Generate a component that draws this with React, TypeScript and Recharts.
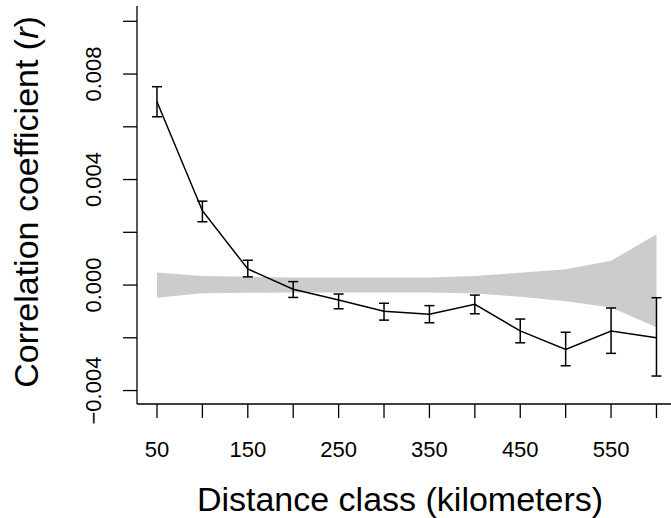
import { ComposedChart, Area, Line, ErrorBar, XAxis, YAxis, Label } from "recharts";

// Values (correlogram with permutation envelope)
const distances = [50, 100, 150, 200, 250, 300, 350, 400, 450, 500, 550, 600];
const rValues = [0.00695, 0.00282, 0.00061, -0.00016, -0.00057, -0.00099, -0.00111, -0.00073, -0.00174, -0.00244, -0.00174, -0.002];
const rUpper = [0.00752, 0.00318, 0.00094, 0.00013, -0.00034, -0.00069, -0.00078, -0.00038, -0.00129, -0.00179, -0.00087, -0.00048];
const rLower = [0.00638, 0.0024, 0.00031, -0.00047, -0.0009, -0.00133, -0.00143, -0.00109, -0.00219, -0.00306, -0.00259, -0.00345];
const envHigh = [0.00048, 0.00034, 0.00031, 0.00029, 0.00029, 0.00029, 0.00029, 0.00034, 0.00047, 0.0006, 0.00092, 0.00193];
const envLow = [-0.00048, -0.00031, -0.00029, -0.00028, -0.00028, -0.00028, -0.00028, -0.00032, -0.00044, -0.00061, -0.00085, -0.0016];

const xTicks = [50, 100, 150, 200, 250, 300, 350, 400, 450, 500, 550, 600];
const xLabelled = [50, 150, 250, 350, 450, 550];
const yTicks = [-0.004, -0.002, 0, 0.002, 0.004, 0.006, 0.008, 0.01];
const yLabelled = [-0.004, 0, 0.004, 0.008];

const FONT = "'Liberation Sans', Arial, Helvetica, sans-serif";
const INK = "#000";
const BAND = "#cccccc";

const data = distances.map((d, i) => ({
  dist: d,
  r: rValues[i],
  err: [rValues[i] - rLower[i], rUpper[i] - rValues[i]],
  band: [envLow[i], envHigh[i]],
}));

function XTick({ x, payload }: any) {
  if (!xLabelled.includes(payload.value)) return null;
  return (
    <text x={x} y={456.5} textAnchor="middle" fontSize={22} fontFamily={FONT} fill={INK}>
      {payload.value}
    </text>
  );
}

function YTick({ y, payload }: any) {
  const v = payload.value;
  if (!yLabelled.some((t) => Math.abs(t - v) < 1e-9)) return null;
  const txt = (v < 0 ? "\u2212" : "") + Math.abs(v).toFixed(3);
  return (
    <text
      x={101}
      y={y}
      transform={`rotate(-90, 101, ${y})`}
      textAnchor="middle"
      fontSize={22}
      fontFamily={FONT}
      fill={INK}
    >
      {txt}
    </text>
  );
}

export default function App() {
  return (
    <div style={{ position: "absolute", left: 0, top: 0, background: "#fff" }}>
      <ComposedChart width={671} height={518} data={data} margin={{ top: 6, right: 0, bottom: 0, left: 0 }}>
        <XAxis
          type="number"
          dataKey="dist"
          domain={[28, 616]}
          allowDataOverflow
          ticks={xTicks}
          interval={0}
          height={114}
          tickSize={14}
          tick={<XTick />}
          axisLine={{ stroke: INK, strokeWidth: 1.3 }}
          tickLine={{ stroke: INK, strokeWidth: 1.3 }}
        >
          <Label
            content={() => (
              <text x={400} y={511} textAnchor="middle" fontSize={34} fontFamily={FONT} fill={INK}>
                Distance class (kilometers)
              </text>
            )}
          />
        </XAxis>
        <YAxis
          type="number"
          domain={[-0.00451, 0.01058]}
          allowDataOverflow
          ticks={yTicks}
          interval={0}
          width={137}
          tickSize={14}
          tick={<YTick />}
          axisLine={{ stroke: INK, strokeWidth: 1.3 }}
          tickLine={{ stroke: INK, strokeWidth: 1.3 }}
        >
          <Label
            content={() => (
              <text
                x={38}
                y={202}
                transform="rotate(-90, 38, 202)"
                textAnchor="middle"
                fontSize={34}
                fontFamily={FONT}
                fill={INK}
              >
                Correlation coefficient (<tspan fontStyle="italic">r</tspan>)
              </text>
            )}
          />
        </YAxis>
        <Area
          type="linear"
          dataKey="band"
          fill={BAND}
          fillOpacity={1}
          stroke="none"
          isAnimationActive={false}
          activeDot={false}
        />
        <Line
          type="linear"
          dataKey="r"
          stroke={INK}
          strokeWidth={1.5}
          dot={false}
          activeDot={false}
          isAnimationActive={false}
        >
          <ErrorBar dataKey="err" width={5} stroke={INK} strokeWidth={1.5} isAnimationActive={false} />
        </Line>
      </ComposedChart>
    </div>
  );
}
